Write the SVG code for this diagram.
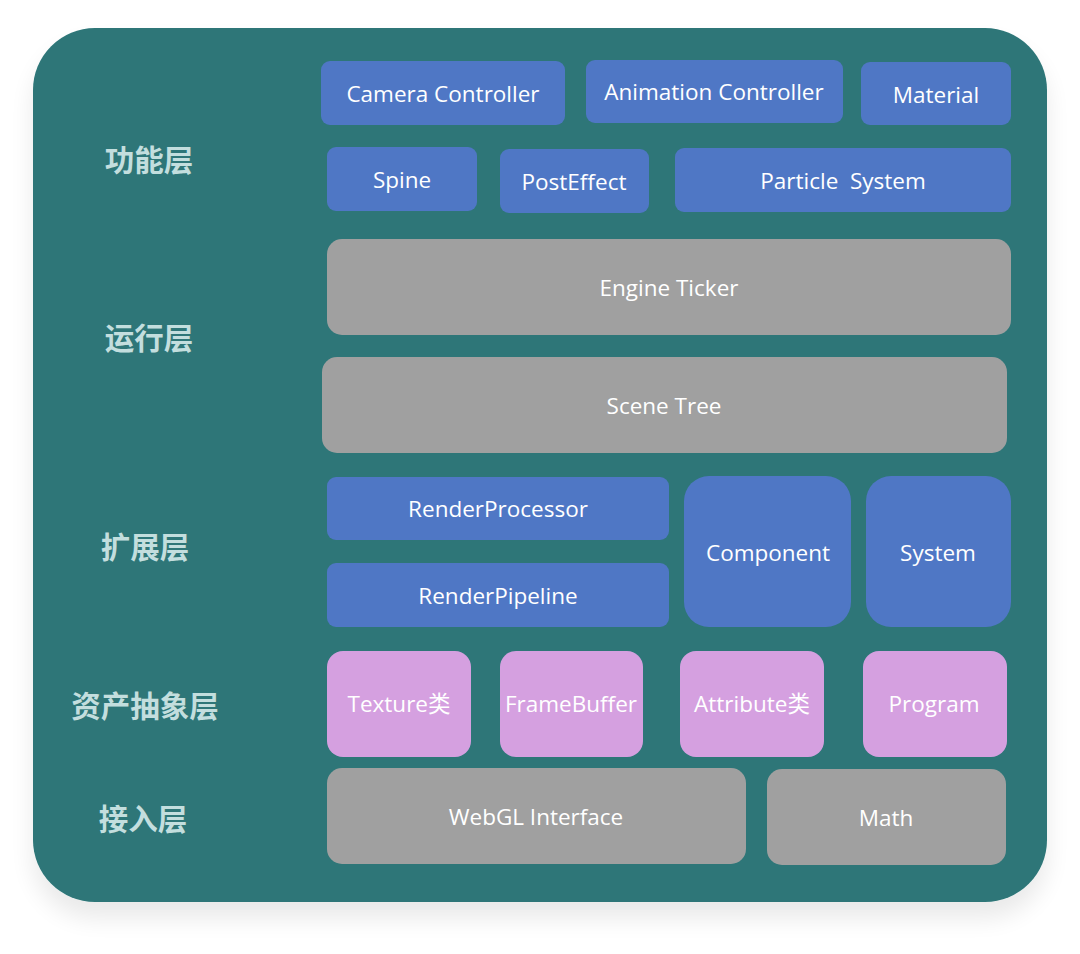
<svg xmlns="http://www.w3.org/2000/svg" width="1080" height="954" viewBox="0 0 1080 954">
<defs>
<filter id="sh" x="-10%" y="-10%" width="120%" height="130%">
<feGaussianBlur in="SourceAlpha" stdDeviation="12"/>
<feOffset dy="16"/>
<feComponentTransfer><feFuncA type="linear" slope="0.09"/></feComponentTransfer>
<feMerge><feMergeNode/><feMergeNode in="SourceGraphic"/></feMerge>
</filter>
</defs>
<style>
.lbl{font-family:"Noto Sans CJK SC",sans-serif;font-weight:700;font-size:29.5px;fill:#C3DEDE;text-anchor:middle;dominant-baseline:central}
.t{font-family:"Open Sans","Noto Sans CJK SC",sans-serif;font-size:22.5px;fill:#FFFFFF;text-anchor:middle;dominant-baseline:central}
.b{fill:#4F77C5}
.g{fill:#A0A0A0}
.p{fill:#D5A0E0}
</style>
<rect width="1080" height="954" fill="#FFFFFF"/>
<rect x="33" y="28" width="1014" height="874" rx="62" fill="#2D7678" filter="url(#sh)"/>
<g id="labels">
<text class="lbl" x="149" y="158">功能层</text>
<text class="lbl" x="149" y="336">运行层</text>
<text class="lbl" x="145" y="545">扩展层</text>
<text class="lbl" x="145" y="704">资产抽象层</text>
<text class="lbl" x="143" y="817">接入层</text>
</g>
<g id="camera"><rect class="b" x="321" y="61" width="244" height="64" rx="9"/><text class="t" x="443" y="93">Camera Controller</text></g>
<g id="animation"><rect class="b" x="586" y="60" width="257" height="63" rx="9"/><text class="t" x="714" y="91">Animation Controller</text></g>
<g id="material"><rect class="b" x="861" y="62" width="150" height="63" rx="9"/><text class="t" x="936" y="94">Material</text></g>
<g id="spine"><rect class="b" x="327" y="147" width="150" height="64" rx="9"/><text class="t" x="402" y="179">Spine</text></g>
<g id="posteffect"><rect class="b" x="500" y="149" width="149" height="64" rx="9"/><text class="t" x="574" y="181">PostEffect</text></g>
<g id="particle"><rect class="b" x="675" y="148" width="336" height="64" rx="9"/><text class="t" x="843" y="180" xml:space="preserve">Particle  System</text></g>
<g id="engine"><rect class="g" x="327" y="239" width="684" height="96" rx="15"/><text class="t" x="669" y="287">Engine Ticker</text></g>
<g id="scene"><rect class="g" x="322" y="357" width="685" height="96" rx="15"/><text class="t" x="664" y="405">Scene Tree</text></g>
<g id="renderprocessor"><rect class="b" x="327" y="477" width="342" height="63" rx="9"/><text class="t" x="498" y="508">RenderProcessor</text></g>
<g id="renderpipeline"><rect class="b" x="327" y="563" width="342" height="64" rx="9"/><text class="t" x="498" y="595">RenderPipeline</text></g>
<g id="component"><rect class="b" x="684" y="476" width="167" height="151" rx="25"/><text class="t" x="768" y="552">Component</text></g>
<g id="system"><rect class="b" x="866" y="476" width="145" height="151" rx="25"/><text class="t" x="938" y="552">System</text></g>
<g id="texture"><rect class="p" x="327" y="651" width="144" height="106" rx="16"/><text class="t" x="399" y="703">Texture类</text></g>
<g id="framebuffer"><rect class="p" x="500" y="651" width="143" height="106" rx="16"/><text class="t" x="571" y="703">FrameBuffer</text></g>
<g id="attribute"><rect class="p" x="680" y="651" width="144" height="106" rx="16"/><text class="t" x="752" y="703">Attribute类</text></g>
<g id="program"><rect class="p" x="863" y="651" width="144" height="106" rx="16"/><text class="t" x="934" y="703">Program</text></g>
<g id="webgl"><rect class="g" x="327" y="768" width="419" height="96" rx="15"/><text class="t" x="536" y="816">WebGL Interface</text></g>
<g id="math"><rect class="g" x="767" y="769" width="239" height="96" rx="15"/><text class="t" x="886" y="817">Math</text></g>
<g id="connectors"></g>
</svg>
